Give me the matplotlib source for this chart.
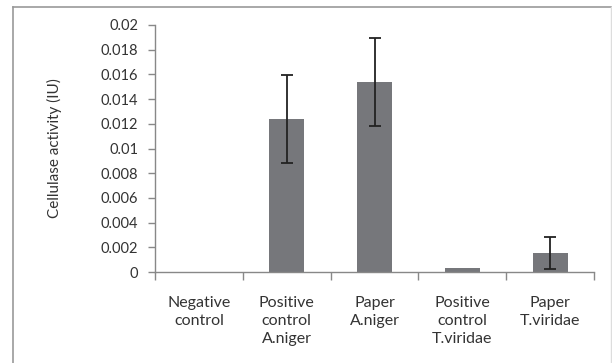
import numpy as np
import matplotlib.pyplot as plt
from matplotlib.lines import Line2D

categories = ["Negative\ncontrol", "Positive\ncontrol\nA.niger", "Paper\nA.niger",
              "Positive\ncontrol\nT.viridae", "Paper\nT.viridae"]
activity = [0.0, 0.01237, 0.01540, 0.00035, 0.00155]
errors = [0.0, 0.00355, 0.00355, 0.0, 0.00128]

plt.rcParams['font.family'] = ['Lato', 'DejaVu Sans']

fig = plt.figure(figsize=(6.12, 3.63), dpi=100)
ax = fig.add_axes([155/612, 1 - 272/363, (594 - 155)/612, (272 - 25)/363])

x = np.arange(len(categories))
ax.bar(x, activity, width=0.4, color='#76777b', zorder=2)
has_err = [e > 0 for e in errors]
ax.errorbar(x[has_err], np.array(activity)[has_err], yerr=np.array(errors)[has_err],
            fmt='none', ecolor='#222222', elinewidth=1.3, capsize=4, capthick=1.3, zorder=3)

ax.set_xlim(-0.5, len(categories) - 0.5)
ax.set_ylim(0, 0.02)
ax.set_yticks(np.arange(0, 0.0201, 0.002))
ax.set_yticklabels(['0'] + ['%g' % v for v in np.arange(0.002, 0.0201, 0.002)])

ax.set_xticks(np.arange(-0.5, len(categories), 1.0))
ax.set_xticklabels([])
ax.set_xticks(x, minor=True)
ax.set_xticklabels(categories, minor=True, fontsize=11.5, color='#333333', linespacing=1.4)
ax.tick_params(axis='x', which='minor', length=0, pad=17)
ax.tick_params(axis='x', which='major', length=6, color='#888888', width=1)
ax.tick_params(axis='y', length=5, color='#888888', width=1, labelsize=10.5,
               labelcolor='#333333', pad=7)

for s in ['top', 'right']:
    ax.spines[s].set_visible(False)
for s in ['left', 'bottom']:
    ax.spines[s].set_color('#888888')
    ax.spines[s].set_linewidth(1)

ax.set_ylabel('Cellulase activity (IU)', fontsize=11, color='#333333', labelpad=28)

# outer chart border
fig.add_artist(Line2D([13/612, 611/612], [1 - 7/363, 1 - 7/363], transform=fig.transFigure,
                      color='#999999', lw=1.2))
fig.add_artist(Line2D([13/612, 13/612], [0, 1 - 7/363], transform=fig.transFigure,
                      color='#999999', lw=1.2))
fig.add_artist(Line2D([611/612, 611/612], [0, 1 - 7/363], transform=fig.transFigure,
                      color='#dddddd', lw=1.0))

fig.savefig('out.png', dpi=100)
